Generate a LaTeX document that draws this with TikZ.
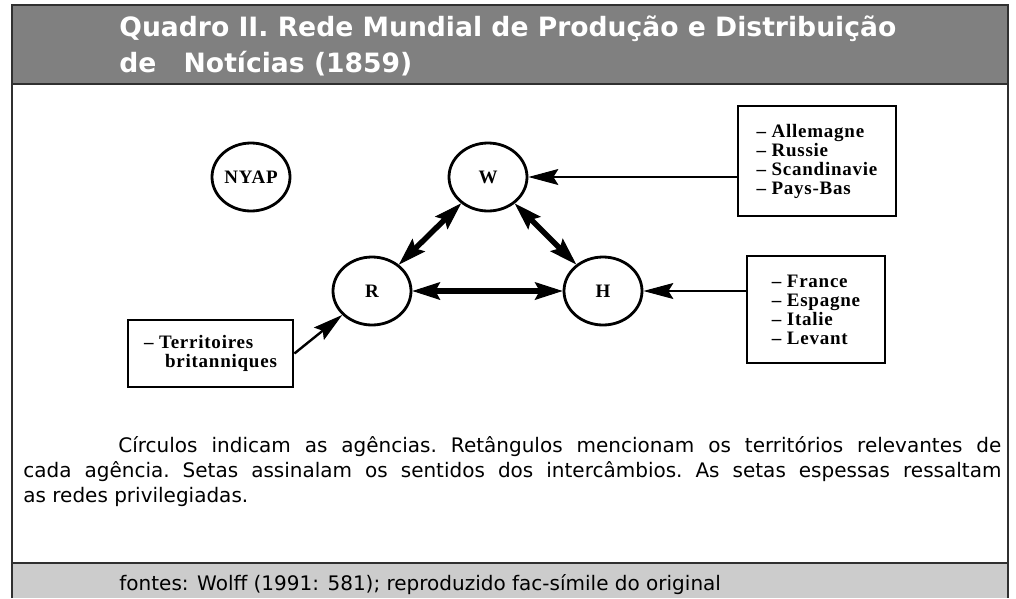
\documentclass[tikz,border=0pt]{standalone}
\usepackage{fontspec}
\setmainfont{DejaVu Sans}
\newfontfamily\scanfont[LetterSpace=4]{Liberation Serif}
\usetikzlibrary{arrows.meta,shapes.geometric}

\definecolor{headgray}{HTML}{808080}
\definecolor{footgray}{HTML}{CCCCCC}
\definecolor{framegray}{HTML}{303030}

\begin{document}
\begin{tikzpicture}[x=1pt,y=-1pt,line width=2.8pt,every node/.style={inner sep=0pt},
  agency/.style={ellipse,draw,minimum width=78pt,minimum height=68pt,font=\scanfont\bfseries\fontsize{19}{19}\selectfont},
  territory/.style={rectangle,draw,align=left,font=\scanfont\bfseries\fontsize{19}{19}\selectfont},
  feed/.style={-{Stealth[length=30pt,width=16pt,inset=5pt,line width=1pt]},line width=2.4pt},
  privileged/.style={{Stealth[length=28pt,width=18pt,inset=5pt,line width=1pt]}-{Stealth[length=28pt,width=18pt,inset=5pt,line width=1pt]},line width=5.5pt}]

\useasboundingbox (0,0) rectangle (1016,598);

% bands and frame
\fill[headgray] (12,5) rectangle (1008,84);
\fill[footgray] (12,563) rectangle (1008,598);
\draw[framegray,line width=2pt] (12,598) -- (12,5) -- (1008,5) -- (1008,598);
\draw[framegray,line width=2pt] (12,84) -- (1008,84) (12,563) -- (1008,563);

\node[anchor=base west,align=left,text=white,font=\bfseries\fontsize{26.6}{36}\selectfont] (title) at (118,72)
  {Quadro II. Rede Mundial de Produção e Distribuição\\de\hspace*{18pt} Notícias (1859)};

% agencies
\foreach \name/\text/\x/\y in {nyap/NYAP/251/177, w/W/488/177, r/R/372/291, h/H/603/291}
\node[agency] (\name) at (\x,\y) {\text};

% territories
\node[territory,minimum width=158pt,minimum height=110pt] (boxw) at (817,161) {– Allemagne\\– Russie\\– Scandinavie\\– Pays-Bas};
\node[territory,minimum width=138pt,minimum height=107pt] (boxh) at (816,309.5) {– France\\– Espagne\\– Italie\\– Levant};
\node[territory,minimum width=165pt,minimum height=67pt] (boxr) at (210.5,353.5) {– Territoires\\\hspace*{21pt}britanniques};

\draw[feed] (boxw.west |- w.east) -- (w.east);
\draw[feed] (boxh.west |- h.east) -- (h.east);
\draw[feed] (boxr.east) -- (r);

\path 
	(r) edge[privileged] (w)
	(w) edge[privileged] (h)
	(r) edge[privileged] (h);

\node[anchor=base west,text width=978pt,align=justify,font=\fontsize{20}{25}\selectfont\frenchspacing] (caption) at (22,452)
  {\noindent\hspace*{95pt}Círculos indicam as agências. Retângulos mencionam os territórios relevantes de\linebreak cada agência. Setas assinalam os sentidos dos intercâmbios. As setas espessas ressaltam\linebreak as redes privilegiadas.};

\node[anchor=base west,font=\fontsize{20}{25}\selectfont] (source) at (118,590)
  {fontes: Wolff (1991: 581); reproduzido fac-símile do original};

\end{tikzpicture}
\end{document}
